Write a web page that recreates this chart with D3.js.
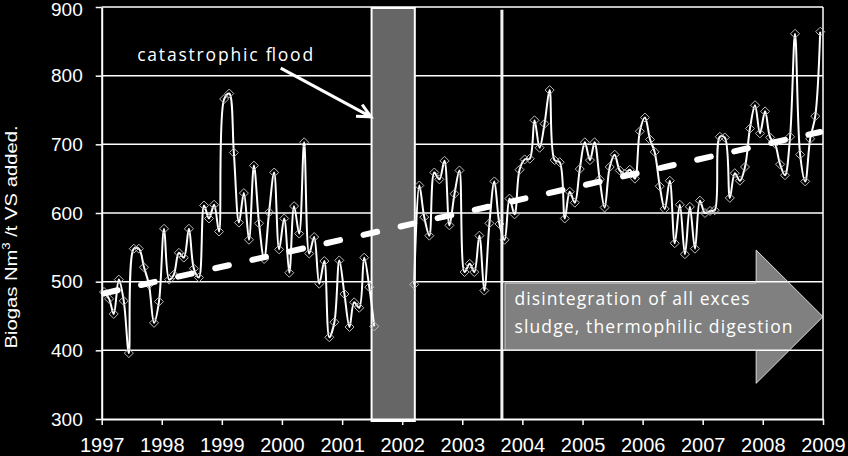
<!DOCTYPE html>
<html>
<head>
<meta charset="utf-8">
<script src="https://cdn.jsdelivr.net/npm/d3@7"></script>
<style>
  body { margin: 0; background: #000; }
  svg { display: block; }
</style>
</head>
<body>
<div id="chart"></div>
<script>
// monthly biogas yield, Nm3 per t VS added (null = no data)
const y1997 = [485, 475, 453, 503, 472, 396, 548, 548, 521, 496, 440, 471];
const y1998 = [577, 503, 510, 542, 535, 577, 519, 506, 611, 592, 612, 573];
const y1999 = [766, 774, 688, 586, 629, 561, 669, 585, 533, 601, 659, 547];
const y2000 = [592, 513, 610, 570, 703, 541, 565, 497, 530, 419, 441, 531];
const y2001 = [482, 434, 470, 462, 535, 492, 435, null, null, null, null, null];
const y2002 = [null, null, 496, 640, 594, 567, 659, 649, 676, 582, 628, 662];
const y2003 = [514, 526, 514, 567, 487, 585, 646, 584, 561, 621, 598, 663];
const y2004 = [678, 679, 735, 695, 730, 779, 677, 674, 592, 631, 615, 664];
const y2005 = [703, 677, 703, 649, 608, 667, 685, 662, 657, 663, 650, 719];
const y2006 = [739, 707, 689, 639, 606, 647, 556, 612, 540, 609, 548, 618];
const y2007 = [600, 603, 604, 711, 710, 622, 658, 647, 667, 723, 757, 716];
const y2008 = [748, 710, 701, 671, 655, 711, 861, 685, 646, 708, 741, 864];

const years = [1997, 1998, 1999, 2000, 2001, 2002, 2003, 2004, 2005, 2006, 2007, 2008];
const yearValues = [y1997, y1998, y1999, y2000, y2001, y2002, y2003, y2004, y2005, y2006, y2007, y2008];

// linear trend as drawn in the original (first month, last month)
const trendValues = [483, 718];

const xTicks = [1997, 1998, 1999, 2000, 2001, 2002, 2003, 2004, 2005, 2006, 2007, 2008, 2009];
const yTicks = [300, 400, 500, 600, 700, 800, 900];

const floodText = "catastrophic flood";
const arrowLines = ["disintegration of all exces", "sludge, thermophilic digestion"];

document.addEventListener("DOMContentLoaded", function () {
    const width = 848;
    const height = 456;
    const margin = { top: 7, right: 25, bottom: 37, left: 101.7 };

    let data = [];
    years.forEach((yr, i) => {
        yearValues[i].forEach((v, m) => {
            data.push({ date: new Date(yr, m, 15), value: v });
        });
    });

    const x = d3.scaleTime()
        .domain([new Date(1997, 0, 1), new Date(2009, 0, 1)])
        .range([margin.left, width - margin.right]);

    const y = d3.scaleLinear()
        .domain([300, 900])
        .range([height - margin.bottom, margin.top]);

    // fractional year -> date
    const yd = t => {
        const yr = Math.floor(t);
        const start = new Date(yr, 0, 1), end = new Date(yr + 1, 0, 1);
        return new Date(+start + (t - yr) * (end - start));
    };

    const annoFont = "'Open Sans', Lato, sans-serif";

    const svg = d3.select("#chart")
        .append("svg")
        .attr("width", width)
        .attr("height", height);

    svg.append("rect")
        .attr("width", width)
        .attr("height", height)
        .attr("fill", "#000");

    // gridlines + frame
    svg.append("g")
        .selectAll("line")
        .data(yTicks.slice(1))
        .join("line")
        .attr("x1", x.range()[0])
        .attr("x2", x.range()[1])
        .attr("y1", d => y(d))
        .attr("y2", d => y(d))
        .attr("stroke", "#fff")
        .attr("stroke-width", 1.5);

    svg.append("line")
        .attr("x1", x.range()[1]).attr("x2", x.range()[1])
        .attr("y1", y(900)).attr("y2", y(300))
        .attr("stroke", "#fff")
        .attr("stroke-width", 1.5);

    // flood period box
    svg.append("rect")
        .attr("x", x(yd(2001.49)))
        .attr("y", y(900) + 1)
        .attr("width", x(yd(2002.21)) - x(yd(2001.49)))
        .attr("height", y(300) - y(900) + 1)
        .attr("fill", "#666")
        .attr("stroke", "#fff")
        .attr("stroke-width", 2);

    // big arrow (semi transparent so gridlines show through)
    const arrowPts = [
        [2003.71, 498], [2007.89, 498], [2007.89, 546], [2009.0, 449],
        [2007.89, 352], [2007.89, 400], [2003.71, 400]
    ];
    svg.append("path")
        .attr("d", d3.line().x(d => x(yd(d[0]))).y(d => y(d[1]))(arrowPts) + "Z")
        .attr("fill", "#fff")
        .attr("fill-opacity", 0.5)
        .attr("stroke", "#ddd")
        .attr("stroke-width", 1);

    const arrowWidths = [235, 278];
    svg.append("g")
        .selectAll("text")
        .data(arrowLines)
        .join("text")
        .attr("x", x(yd(2003.87)))
        .attr("y", (d, i) => y(466) + i * 28)
        .attr("fill", "#fff")
        .attr("font-family", annoFont)
        .attr("font-size", 17.5)
        .attr("textLength", (d, i) => arrowWidths[i])
        .attr("lengthAdjust", "spacing")
        .text(d => d);

    // data line
    const line = d3.line()
        .defined(d => d.value !== null)
        .x(d => x(d.date))
        .y(d => y(d.value))
        .curve(d3.curveCatmullRom.alpha(0.5));

    svg.append("path")
        .datum(data)
        .attr("fill", "none")
        .attr("stroke", "#fff")
        .attr("stroke-width", 2)
        .attr("d", line);

    svg.append("g")
        .selectAll("path")
        .data(data.filter(d => d.value !== null))
        .join("path")
        .attr("transform", d => `translate(${x(d.date)},${y(d.value)})`)
        .attr("d", "M0,-4.5L4.5,0L0,4.5L-4.5,0Z")
        .attr("fill", "none")
        .attr("stroke", "#bbb")
        .attr("stroke-width", 1);

    // linear trend
    const t0 = data[0].date, t1 = data[data.length - 1].date;
    svg.append("line")
        .attr("x1", x(t0)).attr("y1", y(trendValues[0]))
        .attr("x2", x(t1)).attr("y2", y(trendValues[1]))
        .attr("stroke", "#fff")
        .attr("stroke-width", 6)
        .attr("stroke-linecap", "round")
        .attr("stroke-dasharray", "14,24");

    // start of disintegration
    svg.append("line")
        .attr("x1", x(yd(2003.66))).attr("x2", x(yd(2003.66)))
        .attr("y1", y(896)).attr("y2", y(300))
        .attr("stroke", "#f2f2f2")
        .attr("stroke-width", 3);

    // flood annotation
    svg.append("text")
        .attr("x", x(yd(1997.59)))
        .attr("y", y(821))
        .attr("fill", "#fff")
        .attr("font-family", annoFont)
        .attr("font-size", 17.5)
        .attr("textLength", 176)
        .attr("lengthAdjust", "spacing")
        .text(floodText);

    const a0 = [x(yd(1999.98)), y(811)], a1 = [x(yd(2001.48)), y(740)];
    const ang = Math.atan2(a1[1] - a0[1], a1[0] - a0[0]);
    const hl = 15, ha = 0.45;
    svg.append("path")
        .attr("d", `M${a0}L${a1}` +
            `M${a1[0] - hl * Math.cos(ang - ha)},${a1[1] - hl * Math.sin(ang - ha)}L${a1}` +
            `L${a1[0] - hl * Math.cos(ang + ha)},${a1[1] - hl * Math.sin(ang + ha)}`)
        .attr("fill", "none")
        .attr("stroke", "#fff")
        .attr("stroke-width", 3)
        .attr("stroke-linejoin", "miter");

    // axes
    const xAxis = g => g
        .attr("transform", `translate(0,${y(300)})`)
        .call(d3.axisBottom(x)
            .tickValues(xTicks.map(t => new Date(t, 0, 1)))
            .tickFormat(d3.timeFormat("%Y"))
            .tickSize(6)
            .tickSizeOuter(0));

    const yAxis = g => g
        .attr("transform", `translate(${x.range()[0]},0)`)
        .call(d3.axisLeft(y)
            .tickValues(yTicks)
            .tickSize(6)
            .tickPadding(13)
            .tickSizeOuter(0));

    const gx = svg.append("g").call(xAxis);
    const gy = svg.append("g").call(yAxis);

    [gx, gy].forEach(g => {
        g.select(".domain").attr("stroke", "#fff").attr("stroke-width", 2);
        g.selectAll(".tick line").attr("stroke", "#fff").attr("stroke-width", 1.5);
        g.selectAll("text")
            .attr("fill", "#fff")
            .attr("font-family", "'Liberation Sans', Arial, sans-serif");
    });
    gx.selectAll("text").attr("font-size", 20).attr("y", 33).attr("dy", 0);
    gy.selectAll("text").attr("font-size", 19)
        .attr("y", d => d === 900 ? 2 : 0);

    const label = svg.append("text")
        .attr("transform", `translate(17,237) rotate(-90) scale(1.19,1)`)
        .attr("text-anchor", "middle")
        .attr("fill", "#fff")
        .attr("font-family", "'Liberation Sans', Arial, sans-serif")
        .attr("font-size", 17);
    label.append("tspan").text("Biogas Nm");
    label.append("tspan").attr("font-size", 11).attr("dy", -7).text("3");
    label.append("tspan").attr("dy", 7).text(" /t VS added.");
});
</script>
</body>
</html>
